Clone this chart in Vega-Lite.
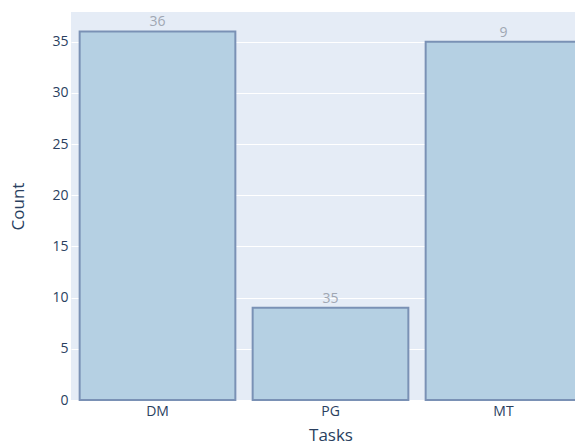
{
  "$schema": "https://vega.github.io/schema/vega-lite/v6.json",
  "autosize": "none",
  "width": 519,
  "height": 388,
  "padding": {"left": 71, "top": 12, "right": 0, "bottom": 44},
  "background": "white",
  "config": {
    "view": {"fill": "#E5ECF6", "stroke": null},
    "font": "Open Sans"
  },
  "data": {
    "values": [
      {"Tasks": "DM", "Count": 36, "label": "36"},
      {"Tasks": "PG", "Count": 9, "label": "35"},
      {"Tasks": "MT", "Count": 35, "label": "9"}
    ]
  },
  "encoding": {
    "x": {
      "field": "Tasks",
      "type": "nominal",
      "sort": null,
      "scale": {"paddingInner": 0.1, "paddingOuter": 0.05},
      "axis": {
        "title": "Tasks",
        "labelAngle": 0,
        "domain": false,
        "ticks": false,
        "labelPadding": 4,
        "labelFontSize": 14,
        "labelColor": "#2a3f5f",
        "titleFontSize": 17,
        "titleFontWeight": "normal",
        "titleColor": "#2a3f5f",
        "titlePadding": 9
      }
    },
    "y": {
      "field": "Count",
      "type": "quantitative",
      "scale": {"domain": [0, 37.9], "nice": false, "zero": true},
      "axis": {
        "title": "Count",
        "values": [0, 5, 10, 15, 20, 25, 30, 35],
        "domain": false,
        "ticks": false,
        "gridColor": "white",
        "gridWidth": 1,
        "labelPadding": 3,
        "labelFontSize": 14,
        "labelColor": "#2a3f5f",
        "titleFontSize": 17,
        "titleFontWeight": "normal",
        "titleColor": "#2a3f5f",
        "titlePadding": 24
      }
    }
  },
  "layer": [
    {
      "mark": {"type": "bar", "fill": "#b5d0e3", "stroke": "#7a91b5", "strokeWidth": 2}
    },
    {
      "mark": {"type": "text", "baseline": "bottom", "dy": -2, "fontSize": 14, "color": "#a0a7b3"},
      "encoding": {"text": {"field": "label"}}
    }
  ]
}
